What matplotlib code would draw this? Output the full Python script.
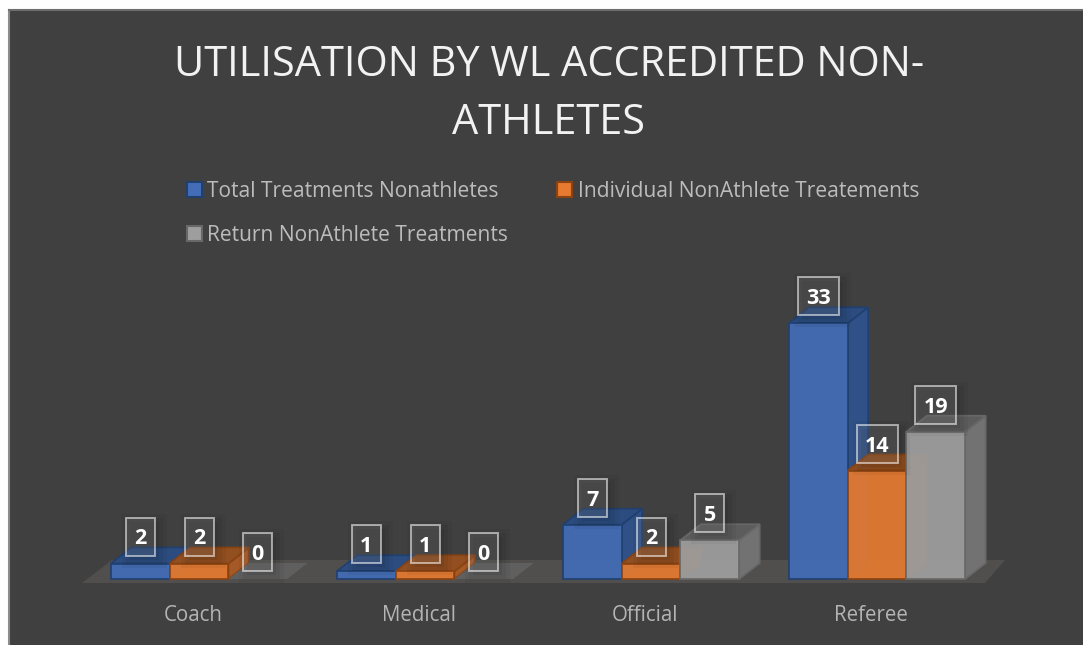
import matplotlib

matplotlib.use("Agg")
import matplotlib.pyplot as plt
import numpy as np
from matplotlib.patches import Patch, Polygon, Rectangle
from matplotlib.transforms import offset_copy

plt.rcParams["font.family"] = ["Open Sans", "DejaVu Sans"]

categories = ["Coach", "Medical", "Official", "Referee"]
total_treatments = [2, 1, 7, 33]
individual_treatments = [2, 1, 2, 14]
return_treatments = [0, 0, 5, 19]
series_names = [
    "Total Treatments Nonathletes",
    "Individual NonAthlete Treatements",
    "Return NonAthlete Treatments",
]

# front, side, top, edge
blue = ("#436db6", "#30538c", "#2b4d84", "#20406f")
orange = ("#e57a30", "#a95a24", "#97501f", "#8a4312")
grey = ("#9e9e9e", "#757575", "#5e5e5e", "#686868")

BG = "#404040"
W, H = 1083, 645
PX_X = 226.0  # pixels per category
PX_Y = 7.75  # pixels per treatment
X0, Y0 = 199.0, 579.0  # pixel of first group centre / of the zero line
BAR = 58.8 / PX_X
DX = 20.5 / PX_X
DY = 16.0 / PX_Y
PANEL_L, PANEL_T = 9, 10


def draw_bar(ax, x, value, colors, z):
    front, side, top, edge = colors
    kw = dict(closed=True, linewidth=1.3, edgecolor=edge, zorder=z)
    if value == 0:
        ax.add_patch(Polygon([(x, 0), (x + BAR, 0), (x + BAR + DX, DY), (x + DX, DY)],
                             closed=True, facecolor="#5f5f5f", edgecolor="none", zorder=z))
        return
    ax.add_patch(Polygon([(x + BAR, 0), (x + BAR + DX, DY), (x + BAR + DX, value + DY), (x + BAR, value)],
                         facecolor=side, alpha=0.95, **kw))
    ax.add_patch(Polygon([(x, value), (x + BAR, value), (x + BAR + DX, value + DY), (x + DX, value + DY)],
                         facecolor=top, alpha=0.95, **kw))
    ax.add_patch(Rectangle((x, 0), BAR, value, facecolor=front, alpha=0.93,
                           linewidth=1.3, edgecolor=edge, zorder=z))


def draw_label(ax, fig, x, value):
    # box sits a fixed distance above the bar top, in pixels
    text = str(value)
    box_w = 41 if len(text) > 1 else 29
    box_h = 38
    base = offset_copy(ax.transData, fig=fig, x=0, y=0, units="dots")
    cx, cy = base.transform((x, value))
    cy += 27
    inv = ax.transData.inverted()
    # soft shadow to the lower right
    for grow, a in [(8, 0.04), (4, 0.05), (0, 0.06)]:
        (sx0, sy0), (sx1, sy1) = inv.transform([
            (cx - box_w / 2 + 4 - grow, cy - box_h / 2 - 4 - grow),
            (cx + box_w / 2 + 4 + grow, cy + box_h / 2 - 4 + grow),
        ])
        ax.add_patch(Rectangle((sx0, sy0), sx1 - sx0, sy1 - sy0, facecolor="black",
                               edgecolor="none", alpha=a, zorder=20))
    (x0, y0), (x1, y1) = inv.transform([(cx - box_w / 2, cy - box_h / 2), (cx + box_w / 2, cy + box_h / 2)])
    ax.add_patch(Rectangle((x0, y0), x1 - x0, y1 - y0, facecolor=(1, 1, 1, 0.09),
                           edgecolor=(1, 1, 1, 0.55), linewidth=1.4, zorder=21))
    ax.text(x, (y0 + y1) / 2, text, color="white", fontsize=15.5, fontweight="bold",
            ha="center", va="center_baseline", zorder=22)


fig = plt.figure(figsize=(W / 100, H / 100), dpi=100, facecolor="white")
ax = fig.add_axes([PANEL_L / W, 0, (W - PANEL_L) / W, (H - PANEL_T) / H])
ax.set_facecolor(BG)
ax.set_xlim((PANEL_L - X0) / PX_X, (W - X0) / PX_X)
ax.set_ylim((Y0 - H) / PX_Y, (Y0 - PANEL_T) / PX_Y)
for s in ax.spines.values():
    s.set_visible(False)
ax.spines["left"].set_visible(True)
ax.spines["top"].set_visible(True)
ax.spines["left"].set_color("#8c8c8c")
ax.spines["top"].set_color("#6e6e6e")
ax.spines["left"].set_linewidth(1.5)
ax.spines["top"].set_linewidth(1.5)

ax.set_yticks([])
positions = np.arange(len(categories))
ax.set_xticks(positions - 6 / PX_X)
ax.set_xticklabels(categories, fontsize=14.8, color="#b4b4b4")
ax.tick_params(axis="x", length=0, pad=-28.5)

# floor of the 3D box
floor_left, floor_right = (82 - X0) / PX_X, (985 - X0) / PX_X
floor_low, floor_high = -4 / PX_Y, 19 / PX_Y
ax.add_patch(Polygon([(floor_left, floor_low), (floor_right, floor_low),
                      (floor_right + 20 / PX_X, floor_high), (floor_left + 30 / PX_X, floor_high)],
                     closed=True, facecolor="#504f4e", edgecolor="none", zorder=1))

all_series = [total_treatments, individual_treatments, return_treatments]
all_colors = [blue, orange, grey]
offsets = [-1.5 * BAR, -0.5 * BAR, 0.5 * BAR]

for i in positions:
    for k, (values, colors) in enumerate(zip(all_series, all_colors)):
        draw_bar(ax, i + offsets[k], values[i], colors, 3 + k)

fig.canvas.draw()
for i in positions:
    for k, values in enumerate(all_series):
        draw_label(ax, fig, i + offsets[k] + BAR / 2, values[i])

fig.text(549 / W, 1 - 94 / H, "UTILISATION BY WL ACCREDITED NON-\nATHLETES", color="#f2f2f2",
         fontsize=29.9, ha="center", va="center", linespacing=1.52)

handles = [Patch(facecolor=c[0], edgecolor=c[3], linewidth=1.5) for c in all_colors]
order = [0, 2, 1]
leg = fig.legend(
    [handles[j] for j in order],
    [series_names[j] for j in order],
    ncol=2,
    loc="upper left",
    bbox_to_anchor=(187 / W, 1 - 181 / H),
    borderaxespad=0,
    borderpad=0,
    frameon=False,
    fontsize=15.1,
    handlelength=0.72,
    handleheight=0.72,
    handletextpad=0.25,
    columnspacing=2.34,
    labelspacing=1.1,
    labelcolor="#bcbcbc",
)

fig.savefig("out.png", dpi=100, facecolor=fig.get_facecolor())
plt.close(fig)
